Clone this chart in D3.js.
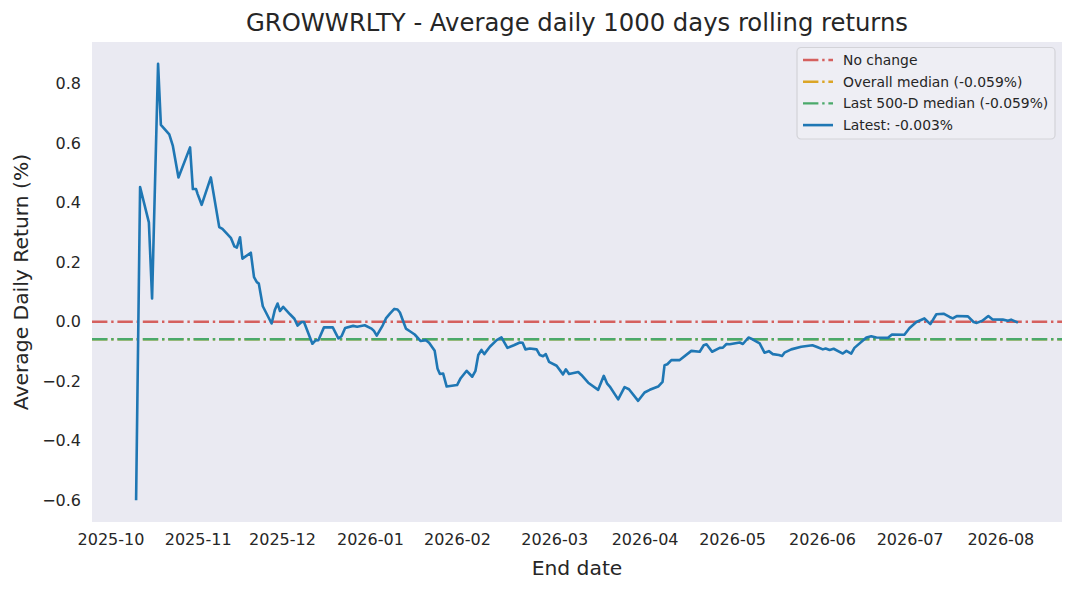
<!DOCTYPE html>
<html>
<head>
<meta charset="utf-8">
<script src="https://cdn.jsdelivr.net/npm/d3@7"></script>
<style>
  body { margin: 0; background: #fff; }
  text { font-family: "DejaVu Sans", sans-serif; fill: #262626; }
</style>
</head>
<body>
<div id="chart"></div>
<script>
/* CONSTANTS AND GLOBALS */
const width = 1074;
const height = 592;
const margin = { top: 42, right: 12, bottom: 70, left: 92 };

// DATA (x = trading day index since first 1000-day window end)
const tradingDay = [
  0, 1.0, 3.2, 4.0, 5.5, 6.2, 8.3, 9.2, 10.6, 13.5, 14.2, 15.0, 15.4, 16.4, 18.7,
  20.8, 21.6, 23.7, 24.6, 25.2, 26.0, 26.6, 28.7, 29.5, 30.2, 30.7, 31.7, 33.9,
  34.7, 35.4, 36.0, 36.8, 38.5, 39.6, 40.4, 41.4, 42.0, 44.1, 44.9, 45.6, 47.0,
  49.2, 50.6, 51.4, 52.3, 54.3, 55.3, 57.2, 58.9, 59.5, 60.2, 61.7, 62.5, 63.5,
  64.6, 65.4, 66.0, 67.5, 68.5, 69.7, 71.2, 72.5, 73.3, 74.7, 75.4, 76.0, 76.8,
  77.7, 80.3, 81.2, 82.7, 84.1, 84.9, 85.6, 86.4, 87.1, 88.5, 90.2, 91.4, 92.9,
  94.5, 96.0, 96.7, 97.4, 98.5, 100.2, 101.0, 101.8, 102.5, 103.3, 105.2, 106.8,
  107.5, 108.3, 110.6, 111.4, 113.1, 115.6, 117.0, 117.8, 118.5, 120.6, 122.2,
  123.3, 125.6, 127.2, 128.5, 130.6, 131.7, 132.2, 132.9, 133.9, 136.0, 138.9,
  141.0, 142.0, 142.7, 144.1, 146.0, 146.8, 147.7, 148.5, 151.0, 151.8, 153.2,
  154.2, 156.0, 157.2, 158.3, 159.3, 160.8, 161.6, 162.2, 163.9, 166.4, 169.2,
  170.2, 171.8, 172.5, 173.5, 174.5, 176.8, 177.7, 178.9, 179.7, 182.7, 183.9,
  185.2, 188.1, 189.1, 192.2, 193.5, 195.2, 197.2, 198.7, 200.2, 202.0, 203.5,
  204.3, 205.3, 208.1, 209.5, 210.3, 211.7, 213.2, 214.2, 216.8, 218.1, 218.9, 220.6
];
const avgReturn = [
  -0.600, 0.453, 0.334, 0.078, 0.867, 0.662, 0.630, 0.591, 0.485, 0.586, 0.446, 0.446, 0.429, 0.393, 0.485,
  0.318, 0.312, 0.282, 0.253, 0.249, 0.284, 0.212, 0.232, 0.150, 0.133, 0.128, 0.052, -0.006,
  0.039, 0.061, 0.036, 0.050, 0.025, 0.010, -0.013, -0.001, -0.001, -0.074, -0.063, -0.062, -0.019,
  -0.019, -0.056, -0.049, -0.021, -0.014, -0.017, -0.012, -0.023, -0.031, -0.047, -0.012, 0.011, 0.027,
  0.043, 0.041, 0.031, -0.023, -0.032, -0.043, -0.065, -0.062, -0.071, -0.098, -0.157, -0.176, -0.174,
  -0.218, -0.213, -0.190, -0.165, -0.185, -0.165, -0.112, -0.095, -0.109, -0.084, -0.062, -0.053, -0.088,
  -0.079, -0.070, -0.071, -0.093, -0.090, -0.093, -0.112, -0.116, -0.109, -0.135, -0.148, -0.177,
  -0.160, -0.176, -0.169, -0.179, -0.205, -0.229, -0.182, -0.207, -0.218, -0.261, -0.220,
  -0.227, -0.266, -0.238, -0.229, -0.218, -0.202, -0.146, -0.143, -0.129, -0.129, -0.098,
  -0.101, -0.079, -0.076, -0.101, -0.088, -0.087, -0.075, -0.076, -0.070, -0.075, -0.053,
  -0.059, -0.073, -0.104, -0.099, -0.109, -0.112, -0.115, -0.104, -0.093, -0.084, -0.079,
  -0.084, -0.093, -0.090, -0.095, -0.091, -0.107, -0.098, -0.107, -0.088, -0.053, -0.049,
  -0.053, -0.054, -0.043, -0.044, -0.021, -0.001, 0.011, -0.008, 0.025, 0.027, 0.016,
  0.011, 0.019, 0.018, -0.001, -0.004, 0.003, 0.019, 0.008, 0.007, 0.003, 0.007, -0.003
];

// month tick positions (trading day index) and labels
const tickDays = [-6.4, 15.4, 36.5, 58.5, 80.25, 104.6, 127.2, 149.1, 171.6, 193.5, 216.2];
const tickLabels = ["2025-10", "2025-11", "2025-12", "2026-01", "2026-02", "2026-03",
                    "2026-04", "2026-05", "2026-06", "2026-07", "2026-08"];
const yTicks = [-0.6, -0.4, -0.2, 0.0, 0.2, 0.4, 0.6, 0.8];

const noChange = 0;
const overallMedian = -0.059;
const last500Median = -0.059;
const latest = -0.003;

const series = tradingDay.map((d, i) => ({ day: d, value: avgReturn[i] }));

// SCALES (matplotlib style 5% padding)
const xExt = d3.extent(series, d => d.day);
const yExt = d3.extent(series, d => d.value);
const xPad = (xExt[1] - xExt[0]) * 0.05;
const yPad = (yExt[1] - yExt[0]) * 0.05;

const xScale = d3.scaleLinear()
  .domain([xExt[0] - xPad, xExt[1] + xPad])
  .range([margin.left, width - margin.right]);

const yScale = d3.scaleLinear()
  .domain([yExt[0] - yPad, yExt[1] + yPad])
  .range([height - margin.bottom, margin.top]);

const svg = d3.select("#chart")
  .append("svg")
  .attr("width", width)
  .attr("height", height);

// plot background
svg.append("rect")
  .attr("x", margin.left)
  .attr("y", margin.top)
  .attr("width", width - margin.left - margin.right)
  .attr("height", height - margin.top - margin.bottom)
  .attr("fill", "#eaeaf2");

// AXES
const xAxis = d3.axisBottom(xScale)
  .tickValues(tickDays)
  .tickFormat((d, i) => tickLabels[i])
  .tickSize(0)
  .tickPadding(12);
svg.append("g")
  .attr("transform", `translate(0, ${height - margin.bottom})`)
  .call(xAxis)
  .call(g => g.select(".domain").remove())
  .selectAll("text")
  .style("font-size", "16px")
  .style("fill", "#262626");

const yAxis = d3.axisLeft(yScale)
  .tickValues(yTicks)
  .tickFormat(d => d3.format(".1f")(d).replace("-", "\u2212"))
  .tickSize(0)
  .tickPadding(11);
svg.append("g")
  .attr("transform", `translate(${margin.left},0)`)
  .call(yAxis)
  .call(g => g.select(".domain").remove())
  .selectAll("text")
  .style("font-size", "16px")
  .style("fill", "#262626");

// reference lines
const dashDot = "15.4,3.8,2.4,3.8";
const refLines = [
  { value: noChange, color: "#d5605e" },
  { value: overallMedian, color: "#dba526" },
  { value: last500Median, color: "#4aa96a" }
];
svg.selectAll(".refline")
  .data(refLines)
  .join("line")
  .attr("class", "refline")
  .attr("x1", margin.left)
  .attr("x2", width - margin.right)
  .attr("y1", d => yScale(d.value))
  .attr("y2", d => yScale(d.value))
  .attr("stroke", d => d.color)
  .attr("stroke-width", 2.4)
  .attr("stroke-dasharray", dashDot);

// rolling return line
const lineGen = d3.line()
  .x(d => xScale(d.day))
  .y(d => yScale(d.value));

svg.append("path")
  .datum(series)
  .attr("fill", "none")
  .attr("stroke", "#1f77b4")
  .attr("stroke-width", 2.6)
  .attr("stroke-linejoin", "round")
  .attr("d", lineGen);

// TITLE + LABELS
svg.append("text")
  .attr("x", (margin.left + width - margin.right) / 2)
  .attr("y", 31)
  .attr("text-anchor", "middle")
  .style("font-size", "24.3px")
  .text("GROWWRLTY - Average daily 1000 days rolling returns");

svg.append("text")
  .attr("x", (margin.left + width - margin.right) / 2)
  .attr("y", 575)
  .attr("text-anchor", "middle")
  .style("font-size", "20.3px")
  .text("End date");

svg.append("text")
  .attr("transform", `translate(28, ${(margin.top + height - margin.bottom) / 2}) rotate(-90)`)
  .attr("text-anchor", "middle")
  .style("font-size", "20.3px")
  .text("Average Daily Return (%)");

// LEGEND
const legendItems = [
  { label: "No change", color: "#d5605e", dash: dashDot },
  { label: `Overall median (${overallMedian.toFixed(3)}%)`, color: "#dba526", dash: dashDot },
  { label: `Last 500-D median (${last500Median.toFixed(3)}%)`, color: "#4aa96a", dash: dashDot },
  { label: `Latest: ${latest.toFixed(3)}%`, color: "#1f77b4", dash: null }
];

const legend = svg.append("g")
  .attr("transform", "translate(797,47.5)");

legend.append("rect")
  .attr("width", 258)
  .attr("height", 91.5)
  .attr("rx", 4)
  .attr("fill", "#eeeef4")
  .attr("stroke", "#d3d3d8")
  .attr("stroke-width", 1.2);

const rows = legend.selectAll(".row")
  .data(legendItems)
  .join("g")
  .attr("class", "row")
  .attr("transform", (d, i) => `translate(0, ${12.5 + i * 21.7})`);

rows.append("line")
  .attr("x1", 6)
  .attr("x2", 36)
  .attr("stroke", d => d.color)
  .attr("stroke-width", d => d.dash ? 2.4 : 2.6)
  .attr("stroke-dasharray", d => d.dash);

rows.append("text")
  .attr("x", 46)
  .attr("y", 5)
  .style("font-size", "13.9px")
  .text(d => d.label);
</script>
</body>
</html>
